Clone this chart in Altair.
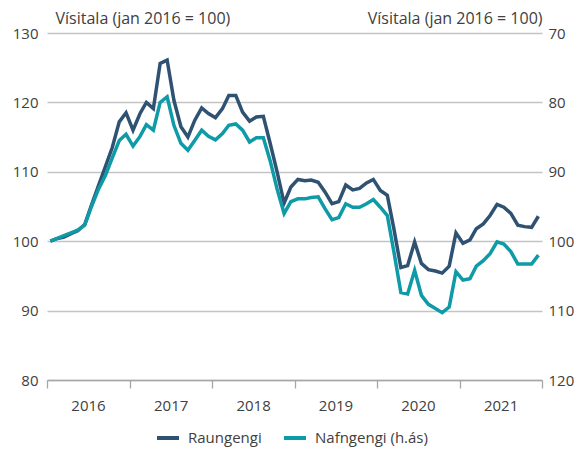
import altair as alt
import pandas as pd

months = [f"{y}-{m:02d}-16" for y in range(2016, 2022) for m in range(1, 13)]

raungengi = [
    100.0, 100.4, 100.6, 101.1, 101.5, 102.4, 105.2, 108.0, 110.8, 113.5, 117.2, 118.5,
    116.0, 118.4, 120.0, 119.1, 125.6, 126.1, 120.3, 116.5, 115.0, 117.4, 119.2, 118.4,
    117.8, 119.1, 121.0, 121.0, 118.6, 117.3, 117.9, 118.0, 114.0, 110.0, 105.5, 107.8,
    108.9, 108.7, 108.8, 108.5, 107.1, 105.4, 105.7, 108.1, 107.4, 107.6, 108.4, 108.9,
    107.3, 106.6, 101.8, 96.2, 96.5, 99.9, 96.8, 95.9, 95.7, 95.4, 96.4, 101.2,
    99.7, 100.2, 101.8, 102.5, 103.7, 105.3, 104.9, 104.0, 102.3, 102.1, 102.0, 103.6,
]

nafngengi = [
    100.0, 99.6, 99.2, 98.8, 98.4, 97.7, 95.0, 92.5, 90.5, 88.0, 85.5, 84.6,
    86.3, 84.9, 83.2, 84.0, 80.0, 79.2, 83.3, 85.9, 86.9, 85.5, 84.0, 84.9,
    85.4, 84.5, 83.3, 83.1, 84.0, 85.7, 85.1, 85.1, 88.5, 92.5, 96.0, 94.3,
    93.9, 93.9, 93.7, 93.6, 95.3, 96.9, 96.6, 94.6, 95.1, 95.1, 94.6, 94.0,
    95.1, 96.3, 101.5, 107.4, 107.6, 104.2, 107.8, 109.1, 109.7, 110.3, 109.5, 104.4,
    105.6, 105.4, 103.6, 102.8, 101.8, 100.1, 100.4, 101.5, 103.3, 103.3, 103.3, 102.0,
]

series_names = ["Raungengi", "Nafngengi (h.ás)"]
colors = ["#2f5273", "#0e9aa7"]
left_ticks = [80, 90, 100, 110, 120, 130]
right_ticks = [70, 80, 90, 100, 110, 120]
years = [2016, 2017, 2018, 2019, 2020, 2021, 2022]
title_text = "Vísitala (jan 2016 = 100)"

df_r = pd.DataFrame({"month": months, "value": raungengi, "series": series_names[0]})
df_n = pd.DataFrame({"month": months, "value": nafngengi, "series": series_names[1]})

FONT = "Open Sans"
TXT = "#404040"
FS = 15
W, H = 495, 347

x_enc = alt.X(
    "month:T",
    scale=alt.Scale(type="utc", domain=[alt.DateTime(year=2016, month=1, date=1, utc=True),
                                        alt.DateTime(year=2022, month=1, date=1, utc=True)]),
    axis=alt.Axis(
        title=None,
        values=[alt.DateTime(year=y, month=1, date=1, utc=True) for y in years],
        labelExpr="utcFormat(datum.value, '%Y') == '2022' ? '' : utcFormat(datum.value, '%Y')",
        labelOffset=41,
        labelAlign="center",
        labelBound=False,
        labelFlush=False,
        labelOverlap=False,
        grid=False,
        domainColor="#a6a6a6",
        domainWidth=1.3,
        tickColor="#a6a6a6",
        tickWidth=1.3,
        tickSize=8,
        labelPadding=10,
        labelFontSize=FS,
        labelFont=FONT,
        labelColor=TXT,
    ),
)

color_enc = alt.Color(
    "series:N",
    scale=alt.Scale(domain=series_names, range=colors),
    legend=alt.Legend(
        title=None,
        orient="none",
        direction="horizontal",
        legendX=108,
        legendY=392,
        symbolType="stroke",
        symbolStrokeWidth=4,
        symbolSize=484,
        labelOffset=7,
        labelFontSize=FS,
        labelFont=FONT,
        labelColor=TXT,
        columnPadding=14,
        symbolOffset=0,
        padding=0,
    ),
)

left = alt.Chart(df_r).mark_line(strokeWidth=3.5).encode(
    x=x_enc,
    y=alt.Y(
        "value:Q",
        scale=alt.Scale(domain=[80, 130], nice=False, zero=False),
        axis=alt.Axis(
            values=left_ticks,
            grid=True,
            gridColor="#c4c4c4",
            gridWidth=1.3,
            domain=False,
            ticks=False,
            labelPadding=9,
            labelFontSize=FS,
            labelFont=FONT,
            labelColor=TXT,
            title=title_text,
            titleAngle=0,
            titleAlign="left",
            titleBaseline="middle",
            titleX=8,
            titleY=-15,
            titleFontWeight="normal",
            titleFontSize=16,
            titleFont=FONT,
            titleColor=TXT,
        ),
    ),
    color=color_enc,
)

right = alt.Chart(df_n).mark_line(strokeWidth=3.5).encode(
    x=x_enc,
    y=alt.Y(
        "value:Q",
        scale=alt.Scale(domain=[70, 120], nice=False, zero=False, reverse=True),
        axis=alt.Axis(
            orient="right",
            values=right_ticks,
            grid=False,
            domain=False,
            ticks=False,
            labelPadding=6,
            labelFontSize=FS,
            labelFont=FONT,
            labelColor=TXT,
            title=title_text,
            titleAngle=0,
            titleAlign="right",
            titleBaseline="middle",
            titleX=0,
            titleY=-15,
            titleFontWeight="normal",
            titleFontSize=16,
            titleFont=FONT,
            titleColor=TXT,
        ),
    ),
    color=color_enc,
)

chart = (
    alt.layer(left, right)
    .resolve_scale(y="independent")
    .properties(
        width=W,
        height=H,
        autosize=alt.AutoSizeParams(type="none"),
        padding={"left": 39, "top": 25, "right": 32, "bottom": 71},
    )
    .configure_view(stroke=None)
)

chart.save("out.html", embed_options={"renderer": "svg", "actions": False})
